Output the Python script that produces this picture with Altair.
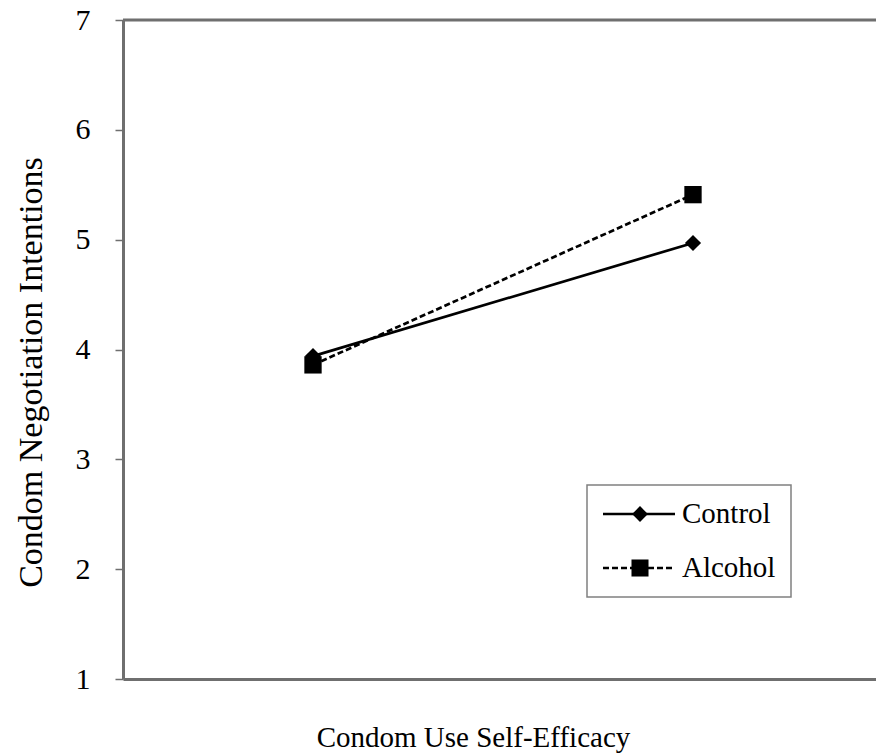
import altair as alt
import pandas as pd

# ---- data ----
groups = ["Control", "Control", "Alcohol", "Alcohol"]
levels = [1, 2, 1, 2]          # low / high self-efficacy
values = [3.94, 4.97, 3.86, 5.41]
y_ticks = [1, 2, 3, 4, 5, 6, 7]
legend_labels = ["Control", "Alcohol"]

df = pd.DataFrame({"group": groups, "level": levels, "value": values})
one = pd.DataFrame({"a": [0]})

FONT = "Liberation Serif"
AX = "#6f6f6f"
W, H = 753, 659

xscale = alt.Scale(domain=[0.5, 0.5 + W / 380.0], nice=False, zero=False)
yscale = alt.Scale(domain=[1, 7], nice=False, zero=False)

xenc = alt.X("level:Q", scale=xscale,
             axis=alt.Axis(title="Condom Use Self-Efficacy", labels=False, ticks=False,
                           grid=False, domainColor=AX, domainWidth=3,
                           titleFont=FONT, titleFontSize=29, titleFontWeight="normal",
                           titleColor="black", titleX=350, titleY=58,
                           titleAlign="center", titleBaseline="middle"))
yenc = alt.Y("value:Q", scale=yscale,
             axis=alt.Axis(title="Condom Negotiation Intentions", values=y_ticks, format="d",
                           grid=False, domainColor=AX, domainWidth=3,
                           tickColor=AX, tickSize=8, tickWidth=1.5,
                           labelFont=FONT, labelFontSize=30, labelColor="black",
                           labelPadding=25,
                           titleFont=FONT, titleFontSize=34, titleFontWeight="normal",
                           titleColor="black", titleX=-92, titleY=352,
                           titleAngle=-90, titleAlign="center", titleBaseline="middle"))

ctrl = df[df.group == "Control"]
alc = df[df.group == "Alcohol"]

line_c = alt.Chart(ctrl).mark_line(color="black", strokeWidth=2.7).encode(x=xenc, y=yenc)
line_a = alt.Chart(alc).mark_line(color="black", strokeWidth=2.7, strokeDash=[6, 3]).encode(x=xenc, y=yenc)
pt_c = alt.Chart(ctrl).mark_point(shape="diamond", filled=True, color="black", size=260, opacity=1).encode(x=xenc, y=yenc)
pt_a = alt.Chart(alc).mark_point(shape="square", filled=True, color="black", size=300, opacity=1).encode(x=xenc, y=yenc)

top_rule = alt.Chart(one).mark_rule(color=AX, strokeWidth=3).encode(y=alt.datum(7, scale=yscale))

# ---- legend (drawn manually, Excel style) ----
leg_box = alt.Chart(one).mark_rect(fill="white", stroke="#808080", strokeWidth=1.5).encode(
    x=alt.value(464), x2=alt.value(668), y=alt.value(465), y2=alt.value(577))
leg_l1 = alt.Chart(one).mark_rule(color="black", strokeWidth=2.5).encode(
    x=alt.value(480), x2=alt.value(552), y=alt.value(494))
leg_p1 = alt.Chart(one).mark_point(shape="diamond", filled=True, color="black", size=250, opacity=1).encode(
    x=alt.value(517), y=alt.value(494))
leg_t1 = alt.Chart(one).mark_text(text=legend_labels[0], font=FONT, fontSize=29, align="left",
                                   baseline="middle", color="black").encode(x=alt.value(559), y=alt.value(494))
leg_l2 = alt.Chart(one).mark_rule(color="black", strokeWidth=2.5, strokeDash=[6, 3]).encode(
    x=alt.value(480), x2=alt.value(552), y=alt.value(548))
leg_p2 = alt.Chart(one).mark_point(shape="square", filled=True, color="black", size=290, opacity=1).encode(
    x=alt.value(517), y=alt.value(548))
leg_t2 = alt.Chart(one).mark_text(text=legend_labels[1], font=FONT, fontSize=29, align="left",
                                   baseline="middle", color="black").encode(x=alt.value(559), y=alt.value(548))

chart = alt.layer(
    top_rule, line_c, line_a, pt_c, pt_a,
    leg_box, leg_l1, leg_p1, leg_t1, leg_l2, leg_p2, leg_t2,
).properties(
    width=W, height=H,
    padding={"left": 123, "top": 20, "right": 0, "bottom": 77},
    autosize=alt.AutoSizeParams(type="none"),
    background="white",
).configure_view(stroke=None)

chart.save("out.html", embed_options={"renderer": "svg", "actions": False})
